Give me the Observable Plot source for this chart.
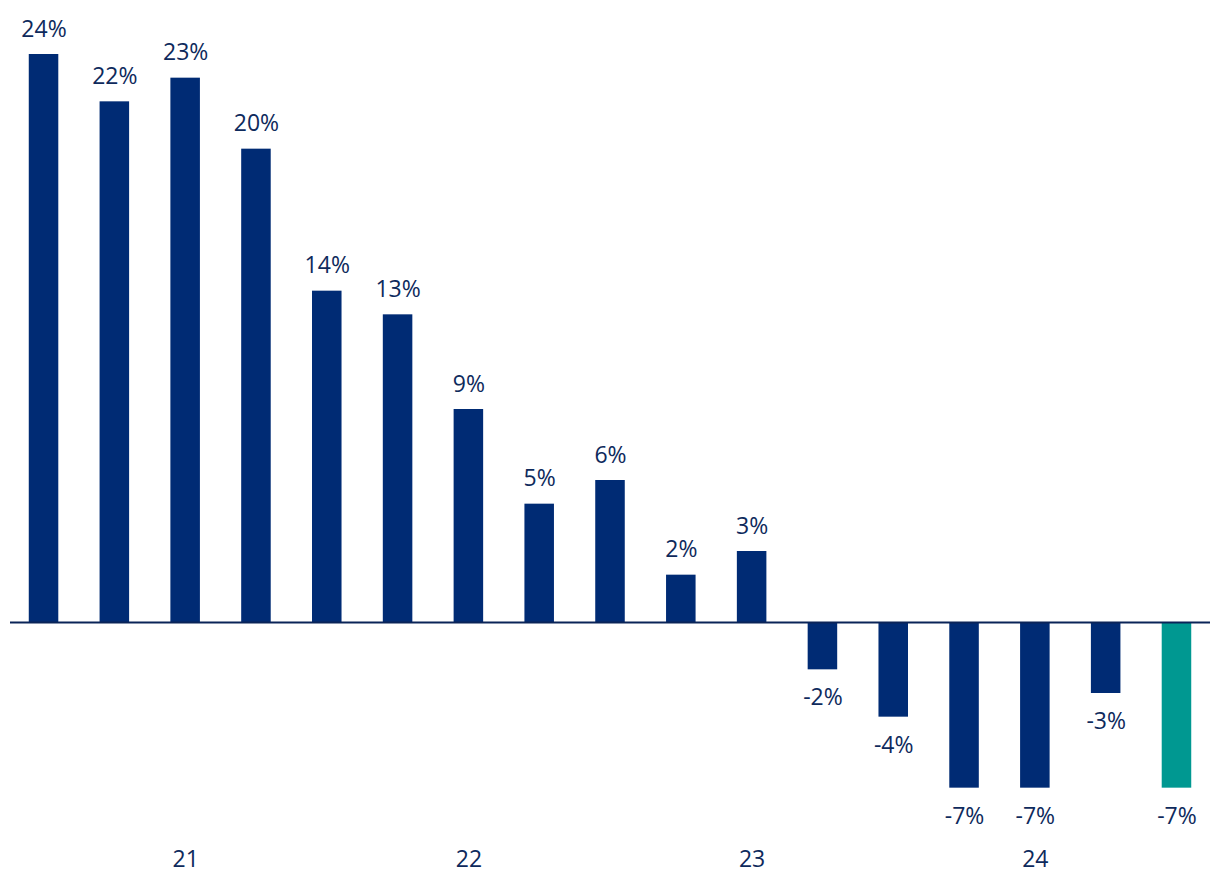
<!DOCTYPE html>
<html>
<head>
<meta charset="utf-8">
<script src="https://cdn.jsdelivr.net/npm/d3@7"></script>
<script src="https://cdn.jsdelivr.net/npm/@observablehq/plot@0.6"></script>
<style>
  html, body { margin: 0; padding: 0; background: #ffffff; }
  #chart { width: 1220px; height: 896px; }
  svg { font-family: "Open Sans", sans-serif; }
</style>
</head>
<body>
<div id="chart"></div>
<script>
const periods = ["Q1 21","Q2 21","Q3 21","Q4 21","Q1 22","Q2 22","Q3 22","Q4 22","Q1 23","Q2 23","Q3 23","Q4 23","Q1 24","Q2 24","Q3 24","Q4 24","Q1 25"];
const values = [24, 22, 23, 20, 14, 13, 9, 5, 6, 2, 3, -2, -4, -7, -7, -3, -7];
const tickPeriods = ["Q3 21","Q3 22","Q3 23","Q3 24"];
const tickLabels = ["21","22","23","24"];

const navy = "#002B74";
const teal = "#009891";
const textColor = "#0E2A5C";

const data = periods.map((p, i) => ({period: p, value: values[i], last: i === periods.length - 1}));
const labelOf = new Map(tickPeriods.map((p, i) => [p, tickLabels[i]]));

const chart = Plot.plot({
  width: 1220,
  height: 896,
  marginLeft: 10,
  marginRight: 10,
  marginTop: 0,
  marginBottom: 50,
  style: {fontFamily: "Open Sans, sans-serif", fontSize: "23px", color: textColor, background: "#ffffff"},
  x: {domain: periods, paddingInner: 0.583, paddingOuter: 0.265, round: false, axis: null},
  y: {domain: [0, 24], range: [622, 54], axis: null},
  marks: [
    Plot.barY(data, {x: "period", y: "value", fill: d => d.last ? teal : navy}),
    Plot.ruleY([0], {stroke: "#0A2458", strokeWidth: 2.2}),
    Plot.text(data.filter(d => d.value >= 0), {x: "period", y: "value", text: d => d.value + "%", lineAnchor: "bottom", dy: -18, fill: textColor, fontSize: 23}),
    Plot.text(data.filter(d => d.value < 0), {x: "period", y: "value", text: d => d.value + "%", lineAnchor: "top", dy: 19, fill: textColor, fontSize: 23}),
    Plot.axisX({ticks: tickPeriods, tickFormat: p => labelOf.get(p), tickSize: 0, tickPadding: 4, fontSize: 23, color: textColor, label: null})
  ]
});
document.getElementById("chart").appendChild(chart);
</script>
</body>
</html>
